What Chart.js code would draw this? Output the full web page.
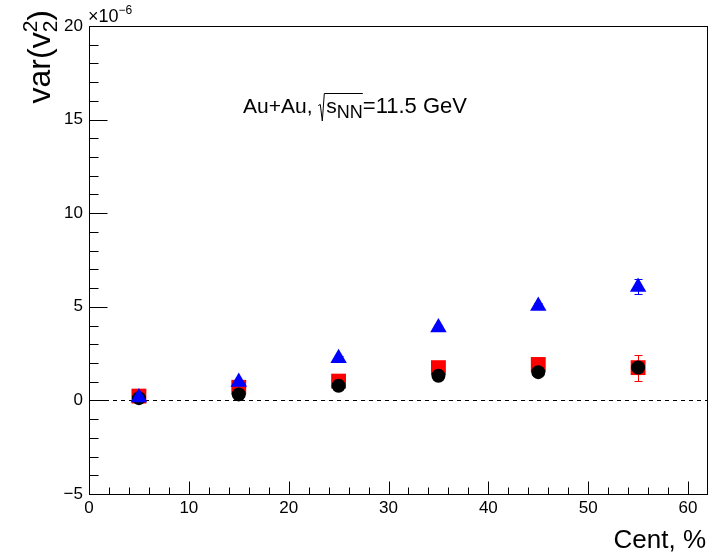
<!DOCTYPE html>
<html>
<head>
<meta charset="utf-8">
<script src="https://cdn.jsdelivr.net/npm/chart.js@4.4.1/dist/chart.umd.min.js"></script>
<style>
  html, body { margin: 0; padding: 0; background: #fff; overflow: hidden; }
  #wrap { width: 710px; height: 555px; position: relative; }
</style>
</head>
<body>
<div id="wrap"><canvas id="chart"></canvas></div>
<script>
// values in units of 1e-6
const cent = [5, 15, 25, 35, 45, 55];

const redVals = [0.23, 0.70, 1.03, 1.75, 1.92, 1.75];
const redErr = [0.05, 0.06, 0.08, 0.10, 0.12, 0.70];

const blackVals = [0.12, 0.32, 0.78, 1.32, 1.51, 1.76];
const blackErr = [0.03, 0.04, 0.06, 0.08, 0.10, 0.14];

const blueVals = [0.15, 0.98, 2.25, 3.90, 5.04, 6.06];
const blueErr = [0.05, 0.08, 0.10, 0.12, 0.15, 0.40];

const xTicks = [0, 10, 20, 30, 40, 50, 60];

const X_MIN = 0, X_MAX = 62;
const Y_MIN = -5, Y_MAX = 20;

const FONT = '"Liberation Sans", Arial, Helvetica, sans-serif';

function points(vals) {
  return cent.map((c, i) => ({ x: c, y: vals[i] }));
}

// draws a run of text pieces [{t, size, dy}] starting at x, returns end x
function drawRich(ctx, parts, x, y, measureOnly) {
  let cx = x;
  for (const p of parts) {
    ctx.font = p.size + 'px ' + FONT;
    const w = ctx.measureText(p.t).width;
    if (!measureOnly) ctx.fillText(p.t, cx, y + (p.dy || 0));
    if (!p.noAdvance) cx += w;
  }
  return cx;
}

const errorBars = {
  id: 'errorBars',
  beforeDatasetsDraw(chart) {
    const { ctx, scales: { x, y } } = chart;
    const sets = [[blackVals, blackErr, '#000000'], [redVals, redErr, '#ff0000'], [blueVals, blueErr, '#0000ff']];
    ctx.save();
    ctx.lineWidth = 1;
    for (const [vals, errs, col] of sets) {
      ctx.strokeStyle = col;
      cent.forEach((c, i) => {
        const px = Math.round(x.getPixelForValue(c)) + 0.5;
        const top = Math.round(y.getPixelForValue(vals[i] + errs[i])) + 0.5;
        const bot = Math.round(y.getPixelForValue(vals[i] - errs[i])) + 0.5;
        ctx.beginPath();
        ctx.moveTo(px, top); ctx.lineTo(px, bot);
        ctx.moveTo(px - 4, top); ctx.lineTo(px + 4, top);
        ctx.moveTo(px - 4, bot); ctx.lineTo(px + 4, bot);
        ctx.stroke();
      });
    }
    ctx.restore();
  }
};

const rootFrame = {
  id: 'rootFrame',
  beforeDatasetsDraw(chart) {
    const { ctx, chartArea: a, scales: { y } } = chart;
    ctx.save();
    // dashed zero line
    const y0 = Math.round(y.getPixelForValue(0)) + 0.5;
    ctx.strokeStyle = '#000';
    ctx.lineWidth = 1;
    ctx.setLineDash([4, 4]);
    ctx.beginPath();
    ctx.moveTo(a.left, y0); ctx.lineTo(a.right, y0);
    ctx.stroke();
    ctx.restore();
  },
  afterDraw(chart) {
    const { ctx, chartArea: a, scales: { x, y } } = chart;
    ctx.save();
    ctx.strokeStyle = '#000';
    ctx.lineWidth = 1;
    const L = Math.round(a.left) + 0.5, R = Math.round(a.right) - 0.5;
    const T = Math.round(a.top) + 0.5, B = Math.round(a.bottom) + 0.5;
    ctx.strokeRect(L, T, R - L, B - T);

    // x ticks (inward)
    ctx.beginPath();
    for (let v = X_MIN; v < X_MAX; v += 2) {
      const px = Math.round(x.getPixelForValue(v)) + 0.5;
      const len = v % 10 === 0 ? 13 : 7;
      ctx.moveTo(px, B); ctx.lineTo(px, B - len);
    }
    // y ticks (inward)
    for (let v = Y_MIN; v <= Y_MAX; v += 1) {
      const py = Math.round(y.getPixelForValue(v)) + 0.5;
      const len = v % 5 === 0 ? 18 : 9;
      ctx.moveTo(L, py); ctx.lineTo(L + len, py);
    }
    ctx.stroke();

    ctx.fillStyle = '#000';
    ctx.textBaseline = 'alphabetic';
    ctx.textAlign = 'left';

    // exponent label
    drawRich(ctx, [
      { t: '\u00d710', size: 18 },
      { t: '\u22126', size: 12, dy: -8 }
    ], 88, 22);

    // x title
    ctx.font = '26px ' + FONT;
    ctx.textAlign = 'right';
    ctx.fillText('Cent, %', 706, 548);

    // y title, rotated
    ctx.textAlign = 'left';
    const yParts = [
      { t: 'var(v', size: 32 },
      { t: '2', size: 21, dy: -13, noAdvance: true },
      { t: '2', size: 21, dy: 7 },
      { t: ')', size: 32 }
    ];
    const w = drawRich(ctx, yParts, 0, 0, true);
    ctx.translate(50, 10);
    ctx.rotate(-Math.PI / 2);
    drawRich(ctx, yParts, -w, 0);
    ctx.setTransform(1, 0, 0, 1, 0, 0);

    // annotation
    let ax = drawRich(ctx, [{ t: 'Au+Au, ', size: 21 }], 243, 113);
    // radical sign
    ctx.beginPath();
    ctx.moveTo(ax, 105.5); ctx.lineTo(ax + 2, 104.5);
    ctx.lineTo(ax + 4, 121);
    ctx.lineTo(ax + 6, 93.5);
    const sx = ax + 8;
    const ex = drawRich(ctx, [
      { t: 's', size: 21 },
      { t: 'NN', size: 18, dy: 5 }
    ], sx, 113);
    ctx.lineTo(ex, 93.5);
    ctx.stroke();
    drawRich(ctx, [{ t: '=11.5 GeV', size: 22 }], ex, 113);
    ctx.restore();
  }
};

const tickFont = { family: FONT, size: 17 };

new Chart(document.getElementById('chart'), {
  type: 'scatter',
  data: {
    datasets: [
      {
        label: 'triangles',
        data: points(blueVals),
        pointStyle: 'triangle',
        pointRadius: 9.5,
        backgroundColor: '#0000ff',
        borderColor: '#0000ff',
        borderWidth: 0,
        order: 1
      },
      {
        label: 'circles',
        data: points(blackVals),
        pointStyle: 'circle',
        pointRadius: 7,
        backgroundColor: '#000000',
        borderColor: '#000000',
        borderWidth: 0,
        order: 2
      },
      {
        label: 'squares',
        data: points(redVals),
        pointStyle: 'rect',
        pointRadius: 10.5,
        backgroundColor: '#ff0000',
        borderColor: '#ff0000',
        borderWidth: 0,
        order: 3
      }
    ]
  },
  options: {
    responsive: true,
    maintainAspectRatio: false,
    animation: false,
    events: [],
    // no extra room for big markers, keep the frame where it is
    layout: { autoPadding: false, padding: { top: 26, right: 2, left: 0, bottom: 0 } },
    plugins: { legend: { display: false }, tooltip: { enabled: false } },
    scales: {
      x: {
        type: 'linear',
        min: X_MIN,
        max: X_MAX,
        grid: { display: false, drawTicks: false },
        border: { display: false },
        afterFit(scale) { scale.height = 61; },
        afterBuildTicks(scale) {
          scale.ticks = xTicks.map(v => ({ value: v }));
        },
        ticks: { color: '#000', font: tickFont, padding: 4, maxRotation: 0, autoSkip: false }
      },
      y: {
        type: 'linear',
        min: Y_MIN,
        max: Y_MAX,
        grid: { display: false, drawTicks: false },
        border: { display: false },
        afterFit(scale) { scale.width = 89; },
        ticks: {
          color: '#000',
          font: tickFont,
          padding: 6,
          stepSize: 5,
          callback: v => String(v).replace('-', '\u2212')
        }
      }
    }
  },
  plugins: [errorBars, rootFrame]
});
</script>
</body>
</html>
